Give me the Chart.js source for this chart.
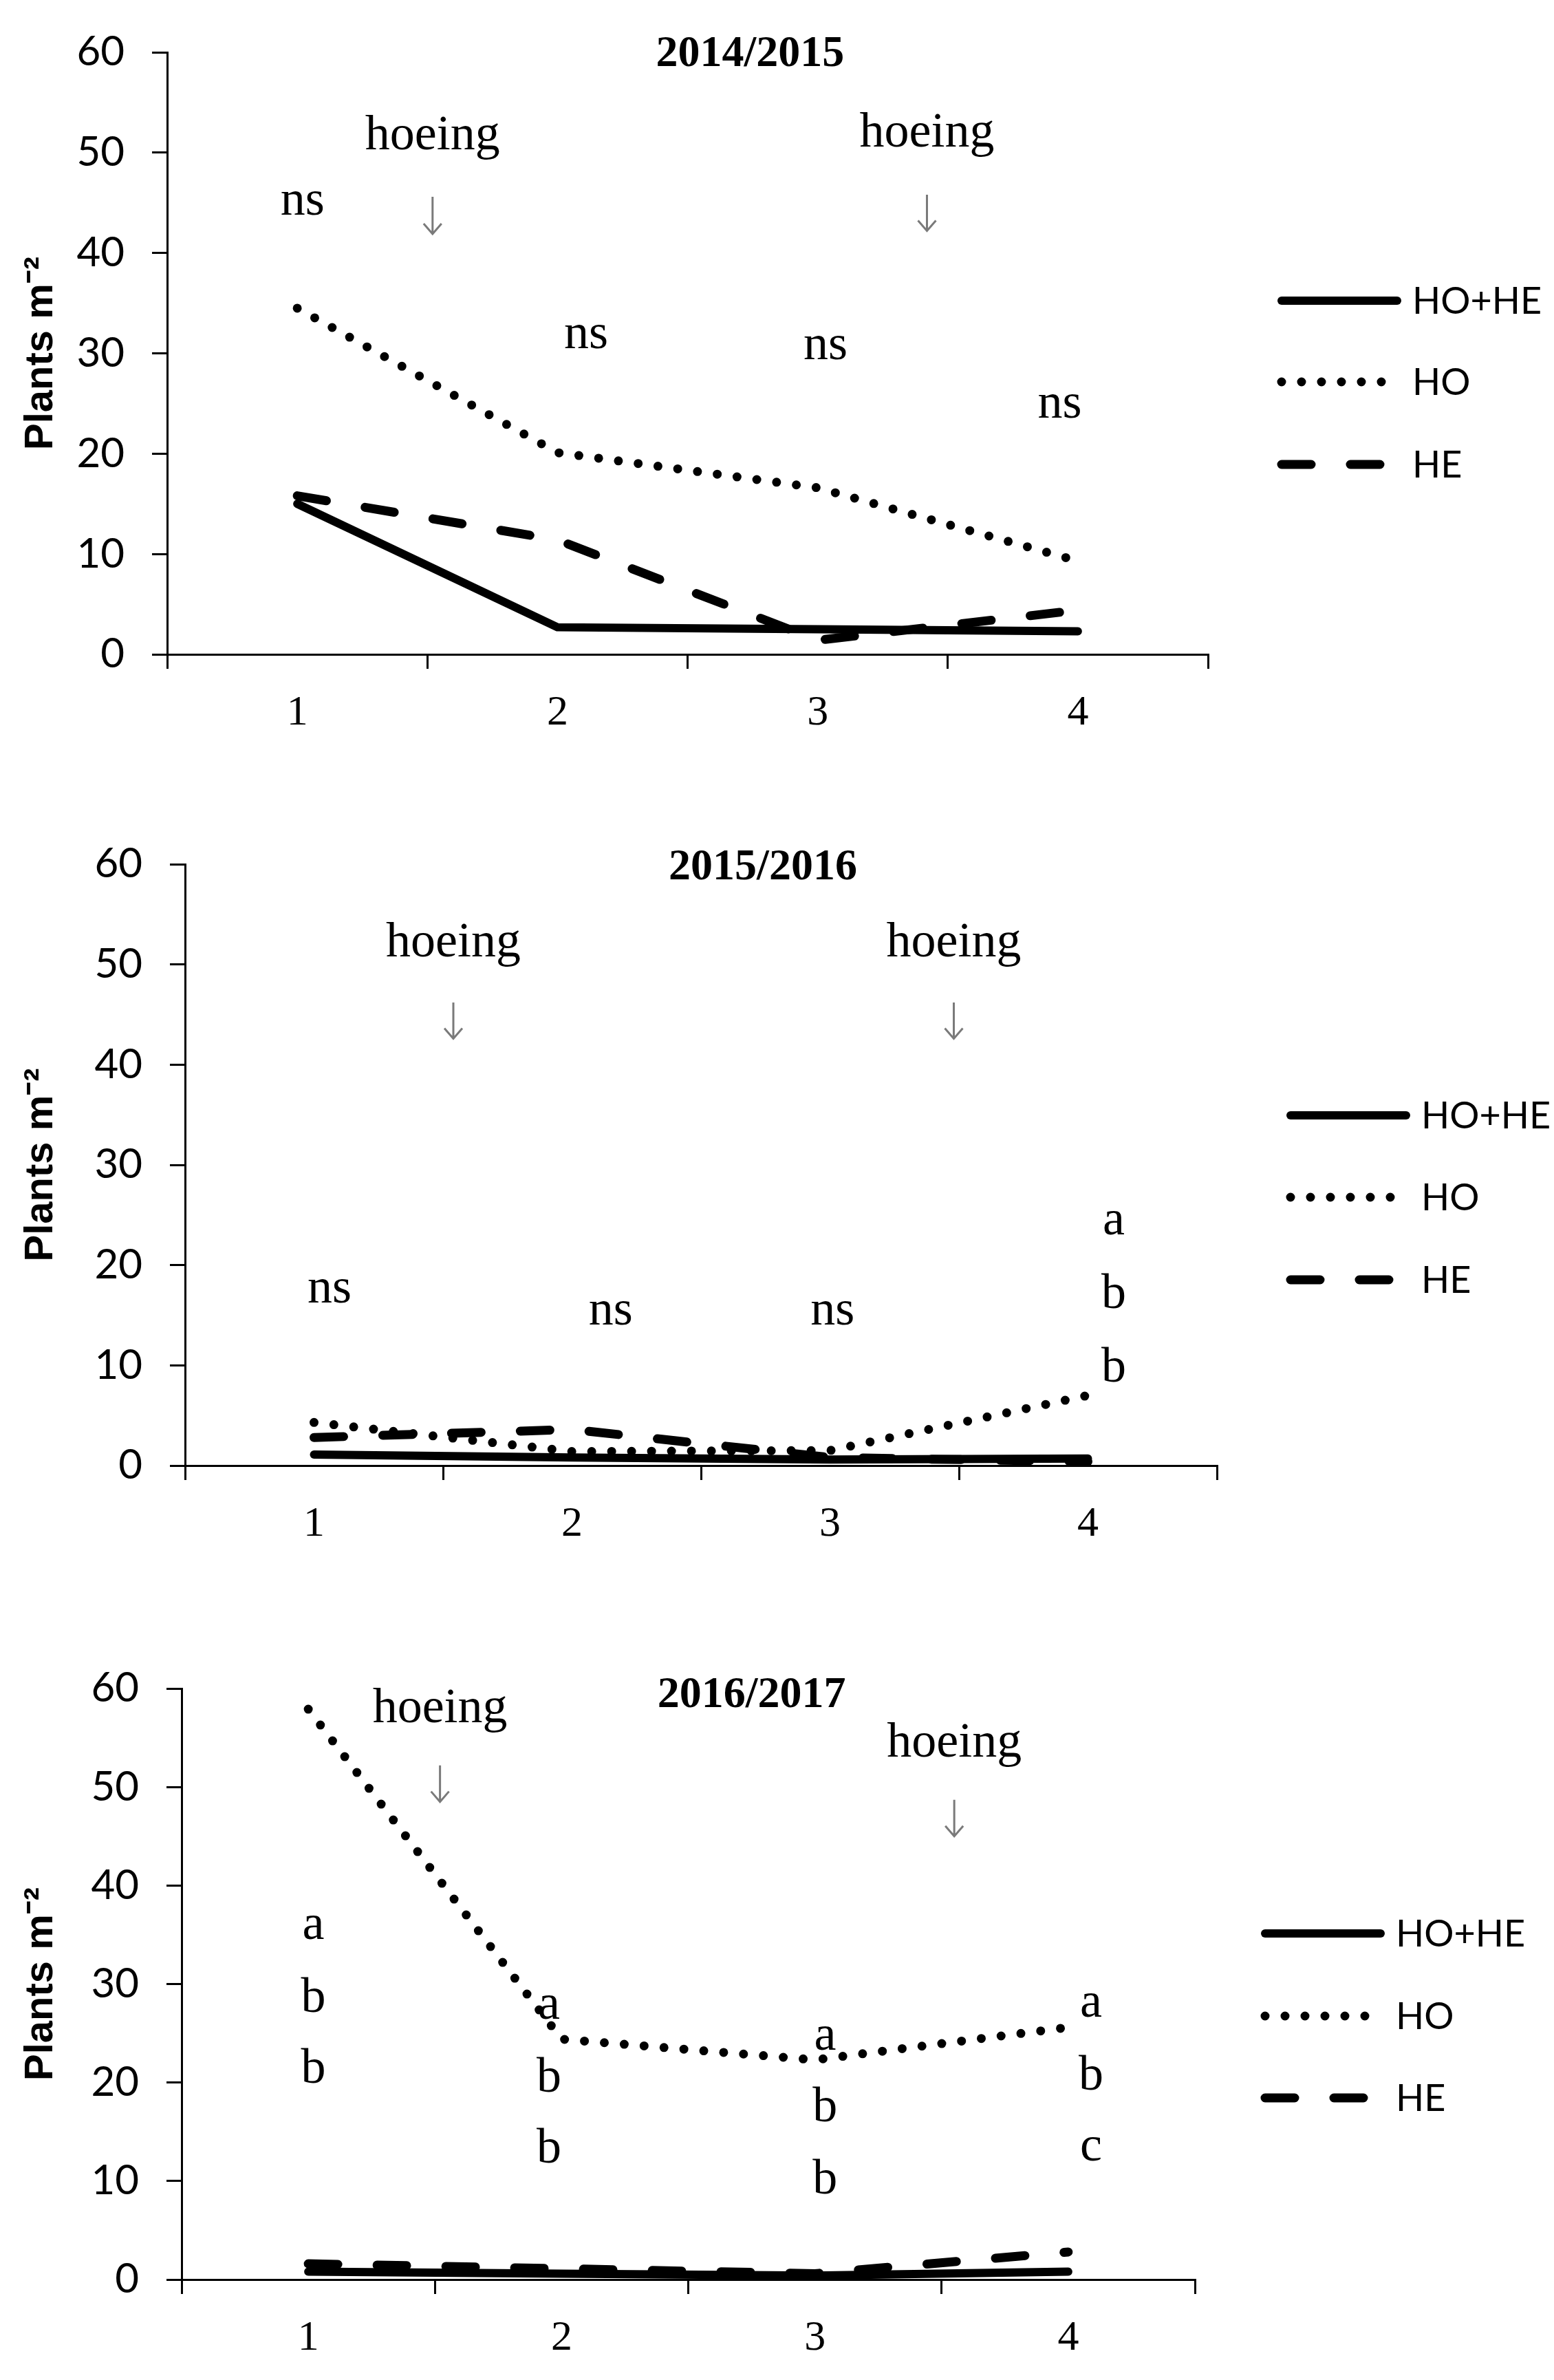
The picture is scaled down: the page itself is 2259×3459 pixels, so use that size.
<!DOCTYPE html>
<html>
<head>
<meta charset="utf-8">
<script src="https://cdn.jsdelivr.net/npm/chart.js@4.4.1/dist/chart.umd.min.js"></script>
<style>
  body { margin: 0; background: #fff; }
  .panel { width: 2259px; height: 1153px; }
  canvas { display: block; }
</style>
</head>
<body>
<div class="panel"><canvas id="c1415" width="2259" height="1153"></canvas></div>
<div class="panel"><canvas id="c1516" width="2259" height="1153"></canvas></div>
<div class="panel"><canvas id="c1617" width="2259" height="1153"></canvas></div>
<script>
// sampling dates on the x axis
const categories = ['1', '2', '3', '4'];
const seriesNames = ['HO+HE', 'HO', 'HE'];

// plants m-2, 2014/2015
const hoHe1415 = [15.0, 2.7, 2.5, 2.3];
const ho1415 = [34.5, 20.1, 16.6, 9.3];
const he1415 = [15.8, 11.4, 1.4, 4.4];

// 2015/2016
const hoHe1516 = [1.1, 0.8, 0.6, 0.7];
const ho1516 = [4.3, 1.4, 1.5, 7.0];
const he1516 = [2.8, 3.6, 0.8, 0.4];

// 2016/2017
const hoHe1617 = [0.8, 0.6, 0.4, 0.8];
const ho1617 = [57.9, 24.4, 22.3, 25.6];
const he1617 = [1.6, 1.1, 0.6, 2.8];

// season titles: [text, x (category index), baseline value]
const title1415 = ['2014/2015', 1.74, 58.6];
const title1516 = ['2015/2016', 1.74, 58.5];
const title1617 = ['2016/2017', 1.75, 58.1];

// hoeing notes: [x (category index), text baseline, arrow top, arrow bottom]
const hoeing1415 = [[0.52, 50.3, 45.6, 41.9], [2.42, 50.6, 45.8, 42.2]];
const hoeing1516 = [[0.54, 50.8, 46.2, 42.6], [2.48, 50.8, 46.2, 42.6]];
const hoeing1617 = [[0.52, 56.6, 52.2, 48.5], [2.55, 53.1, 48.7, 45.0]];

// significance letters: [text, x (category index), baseline value]
const sig1415 = [['ns', 0.02, 43.8], ['ns', 1.11, 30.5], ['ns', 2.03, 29.4], ['ns', 2.93, 23.6]];
const sig1516 = [['ns', 0.06, 16.3], ['ns', 1.15, 14.1], ['ns', 2.01, 14.1],
                 ['a', 3.10, 23.1], ['b', 3.10, 15.7], ['b', 3.10, 8.4]];
const sig1617 = [['a', 0.02, 34.6], ['b', 0.02, 27.2], ['b', 0.02, 20.0],
                 ['a', 0.95, 26.5], ['b', 0.95, 19.1], ['b', 0.95, 11.9],
                 ['a', 2.04, 23.3], ['b', 2.04, 16.1], ['b', 2.04, 8.7],
                 ['a', 3.09, 26.7], ['b', 3.09, 19.3], ['c', 3.09, 12.1]];

const SERIF = '"Liberation Serif", "Times New Roman", serif';
const SANS = 'Lato, "Noto Sans", sans-serif';

// draws titles, hoeing arrows, letters and the line legend
const notesPlugin = {
  id: 'notes',
  afterDraw(chart, args, opts) {
    const { ctx } = chart;
    const x = chart.scales.x, y = chart.scales.y;
    ctx.save();
    ctx.fillStyle = '#000';
    ctx.textAlign = 'center';
    ctx.textBaseline = 'alphabetic';

    ctx.font = 'bold 64px ' + SERIF;
    ctx.fillText(opts.title[0], x.getPixelForValue(opts.title[1]), y.getPixelForValue(opts.title[2]));

    ctx.font = '72px ' + SERIF;
    opts.hoeing.forEach(h => {
      const px = x.getPixelForValue(h[0]);
      ctx.fillStyle = '#000';
      ctx.fillText('hoeing', px, y.getPixelForValue(h[1]));
      const top = y.getPixelForValue(h[2]);
      const bot = y.getPixelForValue(h[3]);
      ctx.strokeStyle = '#7a7a7a';
      ctx.lineWidth = 3;
      ctx.beginPath();
      ctx.moveTo(px, top);
      ctx.lineTo(px, bot);
      ctx.moveTo(px - 13, bot - 15);
      ctx.lineTo(px, bot);
      ctx.lineTo(px + 13, bot - 15);
      ctx.stroke();
    });

    opts.letters.forEach(s => {
      ctx.fillText(s[0], x.getPixelForValue(s[1]), y.getPixelForValue(s[2]));
    });

    // legend
    const lg = opts.legend;
    chart.data.datasets.forEach((ds, i) => {
      const yy = lg.rows[i];
      ctx.strokeStyle = ds.borderColor;
      ctx.lineWidth = ds.borderWidth;
      ctx.lineCap = ds.borderCapStyle;
      ctx.setLineDash(ds.borderDash || []);
      ctx.beginPath();
      ctx.moveTo(lg.x1, yy);
      ctx.lineTo(lg.x2, yy);
      ctx.stroke();
      ctx.setLineDash([]);
      ctx.font = '54px ' + SANS;
      ctx.textAlign = 'left';
      ctx.textBaseline = 'middle';
      ctx.fillText(ds.label, lg.textX, yy + 2);
    });
    ctx.restore();
  }
};

function makeChart(id, hoHe, ho, he, notes, box) {
  const canvas = document.getElementById(id);
  return new Chart(canvas, {
    type: 'line',
    data: {
      labels: categories,
      datasets: [
        { label: seriesNames[0], data: hoHe, borderColor: '#000', borderWidth: 12,
          borderCapStyle: 'round', borderJoinStyle: 'round' },
        { label: seriesNames[1], data: ho, borderColor: '#000', borderWidth: 13,
          borderDash: [0, 29], borderCapStyle: 'round', borderJoinStyle: 'round' },
        { label: seriesNames[2], data: he, borderColor: '#000', borderWidth: 13,
          borderDash: [43, 57], borderCapStyle: 'round', borderJoinStyle: 'round' }
      ]
    },
    options: {
      responsive: false,
      animation: false,
      elements: { point: { radius: 0, hoverRadius: 0 }, line: { tension: 0 } },
      layout: { padding: { left: 0, top: box.top, right: 2259 - box.right, bottom: 0 } },
      plugins: {
        legend: { display: false },
        tooltip: { enabled: false },
        notes: notes
      },
      scales: {
        x: {
          type: 'category',
          offset: true,
          grid: { offset: true, drawOnChartArea: false, drawTicks: true, tickLength: 21,
                  color: '#000', lineWidth: 3 },
          border: { display: true, color: '#000', width: 3 },
          ticks: { color: '#000', font: { family: SERIF, size: 62 }, padding: 28, maxRotation: 0 },
          afterFit: s => { s.height = 1153 - box.bottom; }
        },
        y: {
          min: 0, max: 60,
          grid: { drawOnChartArea: false, drawTicks: true, tickLength: 22,
                  color: '#000', lineWidth: 3 },
          border: { display: true, color: '#000', width: 3 },
          ticks: { stepSize: 10, color: '#000', font: { family: SANS, size: 60 }, padding: 40 },
          title: { display: true, text: 'Plants m⁻²', color: '#000',
                   font: { family: '"Liberation Sans", Arial, sans-serif', size: 58, weight: 'bold' },
                   padding: { top: 25, bottom: 0 } },
          afterFit: s => { s.width = box.left; }
        }
      }
    },
    plugins: [notesPlugin]
  });
}

makeChart('c1415', hoHe1415, ho1415, he1415,
  { title: title1415, hoeing: hoeing1415, letters: sig1415,
    legend: { x1: 1863, x2: 2031, textX: 2053, rows: [437, 555, 675] } },
  { left: 243, right: 1756, top: 69, bottom: 951 });

makeChart('c1516', hoHe1516, ho1516, he1516,
  { title: title1516, hoeing: hoeing1516, letters: sig1516,
    legend: { x1: 1876, x2: 2044, textX: 2066, rows: [468, 587, 707] } },
  { left: 269, right: 1769, top: 103, bottom: 977 });

makeChart('c1617', hoHe1617, ho1617, he1617,
  { title: title1617, hoeing: hoeing1617, letters: sig1617,
    legend: { x1: 1839, x2: 2007, textX: 2029, rows: [504, 624, 743] } },
  { left: 264, right: 1737, top: 148, bottom: 1007 });
</script>
</body>
</html>
